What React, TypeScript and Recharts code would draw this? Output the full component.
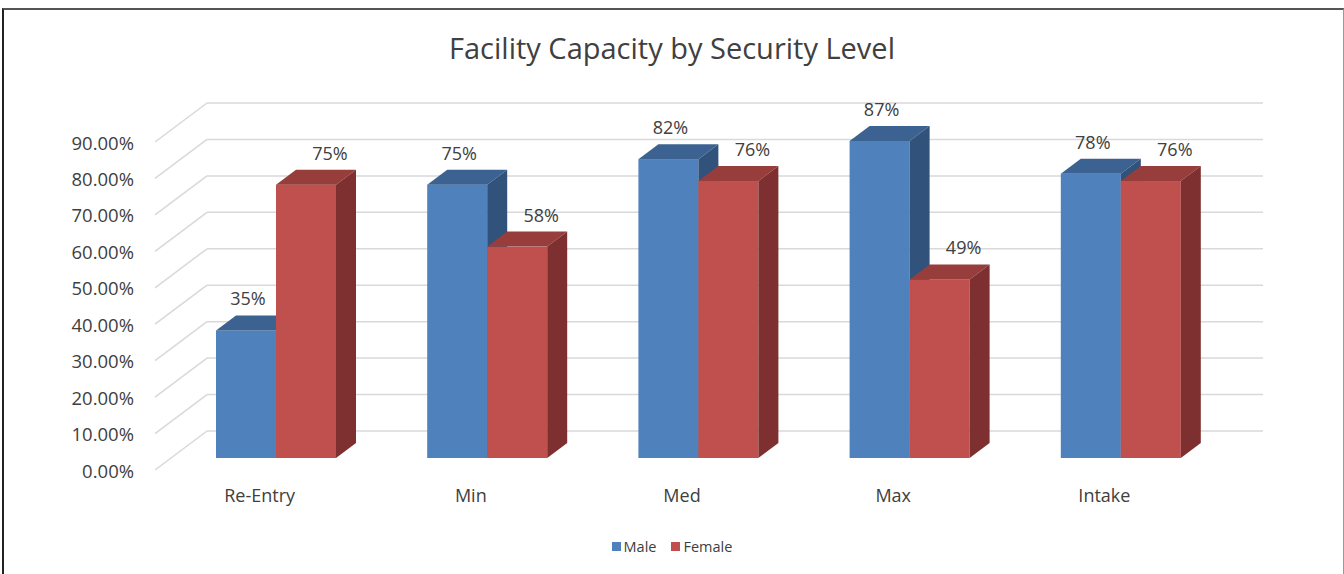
import { BarChart, Bar, XAxis, YAxis, CartesianGrid, Legend, LabelList } from 'recharts';

const categories = ['Re-Entry', 'Min', 'Med', 'Max', 'Intake'];
const maleValues = [0.35, 0.75, 0.82, 0.87, 0.78];
const femaleValues = [0.75, 0.58, 0.76, 0.49, 0.76];
const yTicks = [0, 0.1, 0.2, 0.3, 0.4, 0.5, 0.6, 0.7, 0.8, 0.9];

const data = categories.map((name, i) => ({
  name,
  male: maleValues[i],
  female: femaleValues[i],
}));

// 3D depth offsets (bar depth and back wall depth)
const DX = 20;
const DY = -15;
const WALL_DX = 52;
const WALL_DY = -39;
const FRONT_SHIFT = 12; // front plane sits below the bar plane
const FONT = '"Open Sans", sans-serif';
const TEXT = '#404040';

const palette = {
  male: { front: '#4F81BD', top: '#3C6291', side: '#30527B' },
  female: { front: '#C0504D', top: '#973D3B', side: '#7D302F' },
};

function Box3D(props: any, colors: { front: string; top: string; side: string }) {
  const { x, y, width: w, height: h } = props;
  if (h == null || w == null) return <g />;
  return (
    <g>
      <rect x={x} y={y} width={w} height={h} fill={colors.front} />
      <polygon
        points={`${x},${y} ${x + DX},${y + DY} ${x + w + DX},${y + DY} ${x + w},${y}`}
        fill={colors.top}
      />
      <polygon
        points={`${x + w},${y} ${x + w + DX},${y + DY} ${x + w + DX},${y + h + DY} ${x + w},${y + h}`}
        fill={colors.side}
      />
    </g>
  );
}

const pct = (v: number) => `${Math.round(v * 100)}%`;

function barLabel(shift: number) {
  return (props: any) => {
    const { x, y, width, value } = props;
    return (
      <text
        x={x + width / 2 + shift}
        y={y - 25}
        textAnchor="middle"
        fontFamily={FONT}
        fontSize={18}
        fill={TEXT}
      >
        {pct(value)}
      </text>
    );
  };
}

function gridLine(props: any) {
  const { x1, x2, y1, key } = props;
  return (
    <g key={key}>
      <line x1={x1 - 15} y1={y1 + FRONT_SHIFT} x2={x1 - 15 + WALL_DX} y2={y1 + FRONT_SHIFT + WALL_DY} stroke="#D9D9D9" strokeWidth={1.5} />
      <line x1={x1 + 37} y1={y1 - 27} x2={x2 + 37} y2={y1 - 27} stroke="#D9D9D9" strokeWidth={1.5} />
    </g>
  );
}

function YTick(props: any) {
  const { y, payload } = props;
  return (
    <text x={134} y={y + FRONT_SHIFT} textAnchor="end" dominantBaseline="central" fontFamily={FONT} fontSize={18.5} fill={TEXT}>
      {(payload.value * 100).toFixed(2)}%
    </text>
  );
}

function XTick(props: any) {
  const { x, y, payload } = props;
  return (
    <text x={x - 16} y={y + 36} textAnchor="middle" fontFamily={FONT} fontSize={18} fill={TEXT}>
      {payload.value}
    </text>
  );
}

function LegendContent() {
  const items = [
    { label: 'Male', color: palette.male.front },
    { label: 'Female', color: palette.female.front },
  ];
  return (
    <div style={{ display: 'flex', justifyContent: 'center', gap: 15, fontFamily: FONT, fontSize: 14.5, color: TEXT }}>
      {items.map((it) => (
        <div key={it.label} style={{ display: 'flex', alignItems: 'center', gap: 3 }}>
          <span style={{ width: 9, height: 9, background: it.color, display: 'inline-block' }} />
          <span>{it.label}</span>
        </div>
      ))}
    </div>
  );
}

export default function App() {
  return (
    <div style={{ position: 'absolute', left: 0, top: 0, width: 1344, height: 574, background: '#fff', overflow: 'hidden' }}>
      <div
        style={{
          position: 'absolute',
          left: 2,
          top: 8,
          width: 1339,
          height: 620,
          borderLeft: '2px solid #222',
          borderTop: '2px solid #555',
          borderRight: '1px solid #999',
        }}
      />
      <div
        style={{
          position: 'absolute',
          left: 0,
          top: 28,
          width: 1344,
          textAlign: 'center',
          fontFamily: FONT,
          fontSize: 29,
          color: TEXT,
          lineHeight: '40px',
        }}
      >
        Facility Capacity by Security Level
      </div>
      <div style={{ position: 'absolute', left: 0, top: 0 }}>
        <BarChart
          width={1344}
          height={574}
          data={data}
          margin={{ top: 130, right: 118, bottom: 76, left: 0 }}
          barGap={0}
          barSize={60}
        >
          <CartesianGrid vertical={false} horizontal={gridLine} />
          <XAxis dataKey="name" axisLine={false} tickLine={false} height={40} tick={<XTick />} interval={0} />
          <YAxis
            width={170}
            domain={[0, 0.9]}
            ticks={yTicks}
            axisLine={false}
            tickLine={false}
            tick={<YTick />}
            interval={0}
          />
          <Legend
            verticalAlign="middle"
            content={<LegendContent />}
            wrapperStyle={{ top: 537, left: 0, width: 1344 }}
          />
          <Bar dataKey="male" name="Male" fill={palette.male.front} isAnimationActive={false} shape={(p: any) => Box3D(p, palette.male)}>
            <LabelList dataKey="male" content={barLabel(2)} />
          </Bar>
          <Bar dataKey="female" name="Female" fill={palette.female.front} isAnimationActive={false} shape={(p: any) => Box3D(p, palette.female)}>
            <LabelList dataKey="female" content={barLabel(24)} />
          </Bar>
        </BarChart>
      </div>
    </div>
  );
}
